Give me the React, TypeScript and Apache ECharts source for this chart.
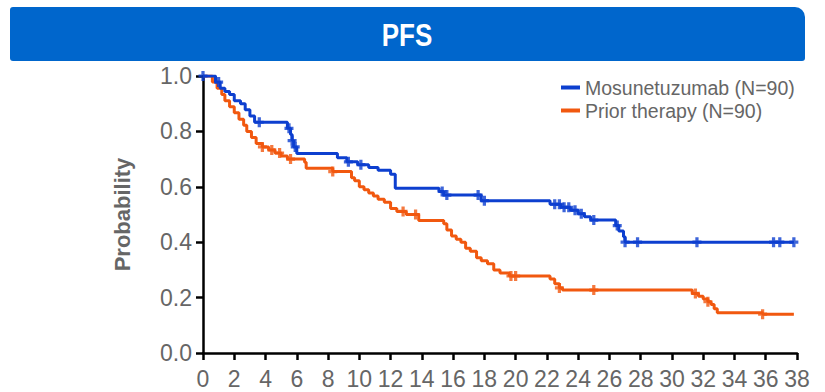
import React, { useEffect, useRef } from "react";
import * as echarts from "echarts";

const title = "PFS";
const seriesNames = ["Mosunetuzumab (N=90)", "Prior therapy (N=90)"];
const colors = ["#0D3FCF", "#F1580F"];

// Mosunetuzumab KM steps (month, survival after event)
const mosTimes = [0, 0.8, 1.1, 1.4, 1.7, 2.0, 2.4, 2.7, 3.0, 3.3, 5.4, 5.6, 5.7, 5.8, 6.0, 8.6, 9.2, 9.9, 10.6, 11.2, 12.0, 12.3, 15.1, 15.4, 17.8, 22.2, 22.9, 23.5, 24.0, 24.4, 24.8, 26.4, 26.6, 26.9, 27.0, 37.8];
const mosSurv = [1.0, 0.978, 0.956, 0.944, 0.933, 0.911, 0.9, 0.878, 0.856, 0.833, 0.811, 0.789, 0.767, 0.744, 0.72, 0.705, 0.69, 0.68, 0.67, 0.66, 0.645, 0.595, 0.583, 0.57, 0.55, 0.537, 0.526, 0.515, 0.503, 0.492, 0.48, 0.46, 0.44, 0.42, 0.4, 0.4];
const mosCensor = [0, 1.0, 3.6, 5.5, 5.7, 5.9, 9.3, 10.1, 15.3, 15.6, 17.6, 18.0, 22.5, 22.8, 23.1, 23.4, 23.8, 24.2, 25.0, 26.5, 27.0, 27.8, 31.6, 36.5, 36.9, 37.8];

// Prior therapy KM steps
const priorTimes = [0, 0.6, 0.9, 1.2, 1.4, 1.7, 2.0, 2.3, 2.6, 2.8, 3.1, 3.4, 3.8, 4.2, 4.6, 5.0, 5.4, 6.5, 6.6, 8.3, 9.5, 9.7, 10.0, 10.3, 10.6, 10.9, 11.2, 11.6, 12.0, 12.4, 13.0, 13.8, 15.4, 15.6, 15.9, 16.2, 16.5, 16.8, 17.1, 17.5, 17.8, 18.2, 18.6, 19.0, 19.6, 22.2, 22.5, 22.8, 23.0, 31.3, 31.7, 32.0, 32.3, 32.5, 32.7, 32.9, 35.8, 37.8];
const priorSurv = [1.0, 0.978, 0.956, 0.933, 0.911, 0.889, 0.867, 0.844, 0.822, 0.8, 0.778, 0.756, 0.744, 0.733, 0.722, 0.711, 0.7, 0.689, 0.667, 0.655, 0.633, 0.622, 0.6, 0.589, 0.578, 0.567, 0.555, 0.544, 0.522, 0.511, 0.5, 0.478, 0.467, 0.444, 0.422, 0.411, 0.4, 0.378, 0.367, 0.344, 0.333, 0.322, 0.3, 0.289, 0.278, 0.267, 0.25, 0.235, 0.227, 0.215, 0.205, 0.195, 0.185, 0.175, 0.16, 0.145, 0.14, 0.14];
const priorCensor = [3.8, 4.4, 4.9, 5.6, 8.3, 12.8, 13.6, 19.7, 20.0, 22.8, 25.0, 31.5, 32.3, 35.8];

const xTicks = { min: 0, max: 38, interval: 2 };
const yTicks = { min: 0, max: 1, interval: 0.2 };

function survAt(times: number[], surv: number[], t: number) {
  let v = surv[0];
  for (let i = 0; i < times.length; i++) {
    if (times[i] <= t) v = surv[i];
  }
  return v;
}

const plusSymbol = "path://M3.2,0H6.8V3.4H10V6.6H6.8V10H3.2V6.6H0V3.4H3.2Z";

export default function App() {
  const ref = useRef<HTMLDivElement>(null);
  useEffect(() => {
    if (!ref.current) return;
    const chart = echarts.init(ref.current, null, { renderer: "svg" });
    const font = "'Liberation Sans', Arial, sans-serif";
    const mk = (times: number[], surv: number[]) => times.map((t, i) => [t, surv[i]]);
    const cens = (times: number[], surv: number[], c: number[]) => c.map((t) => [t, survAt(times, surv, t)]);
    chart.setOption({
      animation: false,
      textStyle: { fontFamily: font },
      graphic: [
        {
          type: "rect",
          shape: { x: 10, y: 7, width: 795, height: 54, r: [3, 10, 3, 3] },
          style: { fill: "#0066CC" },
          z: 0,
        },
        {
          type: "text",
          x: 407,
          y: 35,
          scaleY: 1.2,
          style: {
            text: title,
            fill: "#ffffff",
            font: `bold 26px ${font}`,
            textAlign: "center",
            textVerticalAlign: "middle",
          },
          z: 1,
        },
      ],
      legend: {
        orient: "vertical",
        left: 556,
        top: 72,
        itemWidth: 19,
        itemHeight: 4,
        itemGap: 2,
        icon: "rect",
        data: seriesNames,
        textStyle: { fontSize: 19.5, color: "#666666", fontFamily: font, lineHeight: 21, padding: [0, 0, 0, 0] },
      },
      grid: { left: 203, right: 28, top: 76, bottom: 39, containLabel: false },
      xAxis: {
        type: "value",
        min: xTicks.min,
        max: xTicks.max,
        interval: xTicks.interval,
        axisLine: { show: true, lineStyle: { color: "#000", width: 2.5 } },
        axisTick: { show: true, length: 7, lineStyle: { color: "#000", width: 2.5 } },
        axisLabel: { fontSize: 23, color: "#666666", margin: 14, fontFamily: font },
        splitLine: { show: false },
      },
      yAxis: {
        type: "value",
        min: yTicks.min,
        max: yTicks.max,
        interval: yTicks.interval,
        name: "Probability",
        nameLocation: "middle",
        nameGap: 70,
        nameTextStyle: { fontSize: 22, fontWeight: "bold", color: "#666666", fontFamily: font },
        axisLine: { show: true, lineStyle: { color: "#000", width: 2.5 } },
        axisTick: { show: true, length: 7, lineStyle: { color: "#000", width: 2.5 } },
        axisLabel: { fontSize: 23, color: "#666666", margin: 11, fontFamily: font, formatter: (v: number) => v.toFixed(1) },
        splitLine: { show: false },
      },
      series: [
        {
          name: seriesNames[0],
          type: "line",
          step: "end",
          data: mk(mosTimes, mosSurv),
          showSymbol: false,
          lineStyle: { color: colors[0], width: 3 },
          itemStyle: { color: colors[0] },
          z: 3,
        },
        {
          name: seriesNames[1],
          type: "line",
          step: "end",
          data: mk(priorTimes, priorSurv),
          showSymbol: false,
          lineStyle: { color: colors[1], width: 3 },
          itemStyle: { color: colors[1] },
          z: 2,
        },
        {
          name: seriesNames[0] + " censored",
          type: "scatter",
          data: cens(mosTimes, mosSurv, mosCensor),
          symbol: plusSymbol,
          symbolSize: [9, 10],
          itemStyle: { color: colors[0] },
          z: 3,
        },
        {
          name: seriesNames[1] + " censored",
          type: "scatter",
          data: cens(priorTimes, priorSurv, priorCensor),
          symbol: plusSymbol,
          symbolSize: [9, 10],
          itemStyle: { color: colors[1] },
          z: 2,
        },
      ],
    });
    return () => chart.dispose();
  }, []);
  return <div ref={ref} style={{ width: 825, height: 392, position: "absolute", left: 0, top: 0 }} />;
}
